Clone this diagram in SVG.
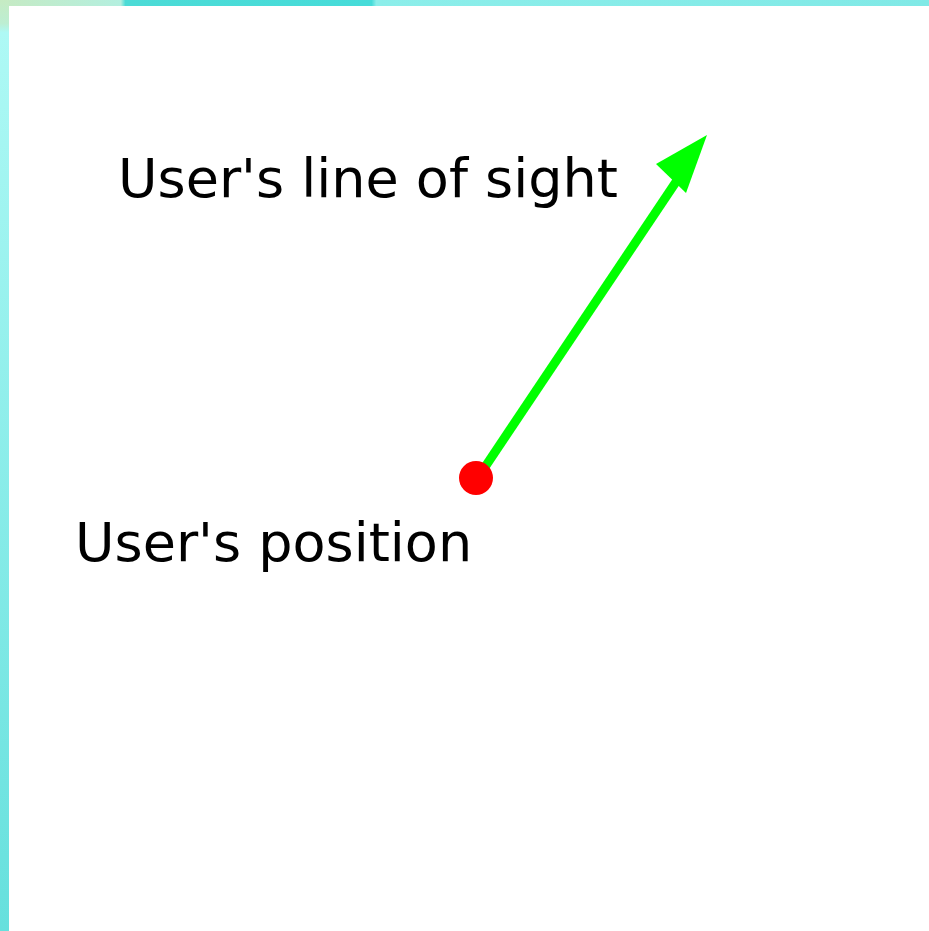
<svg xmlns="http://www.w3.org/2000/svg" width="929" height="931" viewBox="0 0 929 931">
<defs>
<linearGradient id="lg" x1="0" y1="0" x2="0" y2="1"><stop offset="0" stop-color="#c6ebc3"/><stop offset="0.025" stop-color="#bdeed2"/><stop offset="0.035" stop-color="#aef9f5"/><stop offset="1" stop-color="#66e0dd"/></linearGradient>
<linearGradient id="tg" x1="0" y1="0" x2="1" y2="0"><stop offset="0" stop-color="#c6eac3"/><stop offset="0.13" stop-color="#b4efdf"/><stop offset="0.135" stop-color="#4cdbd6"/><stop offset="0.4" stop-color="#46dcd9"/><stop offset="0.405" stop-color="#8ceeea"/><stop offset="1" stop-color="#80e9e6"/></linearGradient>
<style>.t{font-family:"DejaVu Sans",sans-serif;font-size:54px;fill:#000}</style>
</defs>
<rect width="929" height="931" fill="#fff"/>
<rect x="0" y="0" width="929" height="6" fill="url(#tg)"/>
<rect x="0" y="0" width="9" height="931" fill="url(#lg)"/>
<g id="connectors">
<line x1="483" y1="470" x2="690" y2="161" stroke="#00ff00" stroke-width="9"/>
<polygon points="707,135 656,164 686,193" fill="#00ff00"/>
</g>
<g id="position">
<circle cx="476" cy="478" r="17" fill="#ff0000"/>
<text class="t" x="75" y="561">User's position</text>
</g>
<g id="sight">
<text class="t" x="118" y="197">User's line of sight</text>
</g>
</svg>
